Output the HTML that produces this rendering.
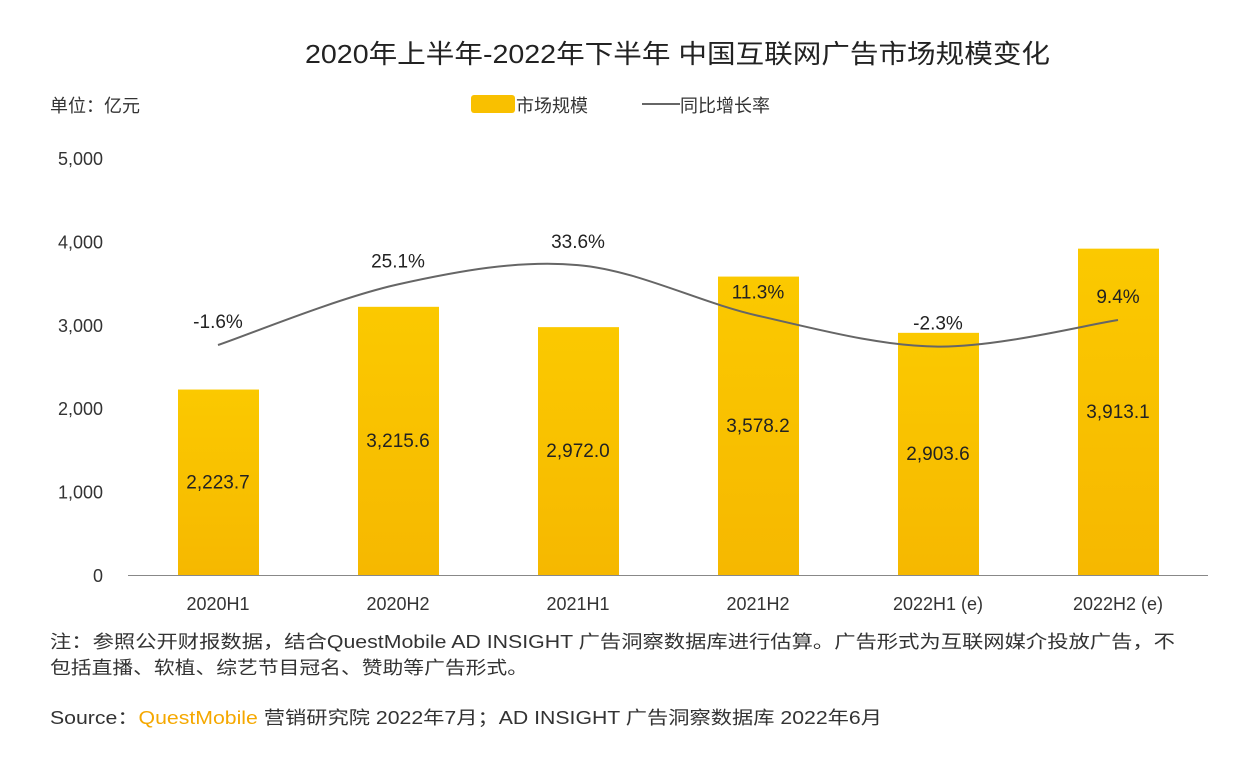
<!DOCTYPE html>
<html><head><meta charset="utf-8">
<style>
body{margin:0;background:#fff;width:1252px;height:764px;overflow:hidden;font-family:"Liberation Sans","Noto Sans CJK SC",sans-serif;}
svg text{font-family:"Liberation Sans","Noto Sans CJK SC",sans-serif;}
</style></head><body>
<svg id="chart" width="1252" height="764" viewBox="0 0 1252 764">
<defs><linearGradient id="bg" x1="0" y1="0" x2="0" y2="1"><stop offset="0" stop-color="#fbc900"/><stop offset="1" stop-color="#f6b800"/></linearGradient></defs>
<text x="305" y="63" textLength="745" lengthAdjust="spacingAndGlyphs" font-size="26" fill="#222">2020年上半年-2022年下半年 中国互联网广告市场规模变化</text>
<text x="50" y="112" font-size="18" fill="#333">单位：亿元</text>
<g>
<rect x="471" y="95" width="44" height="18" rx="3" fill="#f9c000"/>
<text x="516" y="112" font-size="18" fill="#333">市场规模</text>
<line x1="642" y1="104" x2="680" y2="104" stroke="#666" stroke-width="2"/>
<text x="680" y="112" font-size="18" fill="#333">同比增长率</text>
</g>
<g id="yaxis"></g>
<g id="bars"></g>
<line x1="128" y1="575.5" x2="1208" y2="575.5" stroke="#888" stroke-width="1"/>
<g id="xaxis"></g>
<g id="line"></g>
<text x="50" y="648" textLength="1125" lengthAdjust="spacingAndGlyphs" font-size="18" fill="#333">注：参照公开财报数据，结合QuestMobile AD INSIGHT 广告洞察数据库进行估算。广告形式为互联网媒介投放广告，不</text>
<text x="50" y="674" textLength="478" lengthAdjust="spacingAndGlyphs" font-size="18" fill="#333">包括直播、软植、综艺节目冠名、赞助等广告形式。</text>
<text x="50" y="724" textLength="832" lengthAdjust="spacingAndGlyphs" font-size="18" fill="#333">Source：<tspan fill="#f5a800">QuestMobile</tspan> 营销研究院 2022年7月；AD INSIGHT 广告洞察数据库 2022年6月</text>
</svg>
<script>
const categories=["2020H1","2020H2","2021H1","2021H2","2022H1 (e)","2022H2 (e)"];
const marketSize=[2223.7,3215.6,2972.0,3578.2,2903.6,3913.1];
const growthRate=[-1.6,25.1,33.6,11.3,-2.3,9.4];
const yTicks=[0,1000,2000,3000,4000,5000];
const NS="http://www.w3.org/2000/svg";
function y(v){return 575-v*(417/5000);}
function x(i){return 128+180*i+90;}
function yr(p){return 345-(p+1.6)*2.27;}
function mk(tag,attrs,parent,txt){const e=document.createElementNS(NS,tag);for(const k in attrs)e.setAttribute(k,attrs[k]);if(txt!==undefined)e.textContent=txt;parent.appendChild(e);return e;}
const ya=document.getElementById('yaxis');
yTicks.forEach(t=>{const e=mk('text',{x:103,y:y(t)+7,'text-anchor':'end','font-size':18,fill:'#333'},ya,t.toLocaleString('en-US'));

});
const bg=document.getElementById('bars');
const xa=document.getElementById('xaxis');
categories.forEach((c,i)=>{
const r=mk('rect',{x:x(i)-40,y:y(marketSize[i]),width:81,height:575-y(marketSize[i]),fill:'url(#bg)'},bg);


const l=mk('text',{x:x(i),y:(y(marketSize[i])+575)/2+6,'text-anchor':'middle','font-size':19,fill:'#222'},bg,marketSize[i].toLocaleString('en-US',{minimumFractionDigits:1}));


const t=mk('text',{x:x(i),y:610,'text-anchor':'middle','font-size':18,fill:'#333'},xa,c);


});
const lg=document.getElementById('line');
const pts=growthRate.map((g,i)=>[x(i),yr(g)]);
let d='M'+pts[0][0]+','+pts[0][1];
for(let i=0;i<pts.length-1;i++){const p0=pts[i-1]||pts[i],p1=pts[i],p2=pts[i+1],p3=pts[i+2]||p2;
const c1=[p1[0]+(p2[0]-p0[0])/6,p1[1]+(p2[1]-p0[1])/6],c2=[p2[0]-(p3[0]-p1[0])/6,p2[1]-(p3[1]-p1[1])/6];
d+=' C'+c1+' '+c2+' '+p2;}
const pa=mk('path',{d:d,fill:'none',stroke:'#666','stroke-width':2},lg);


growthRate.forEach((g,i)=>{const t=mk('text',{x:x(i),y:yr(g)-17,'text-anchor':'middle','font-size':19,fill:'#222'},lg,g.toFixed(1)+'%');

});
</script>
</body></html>
